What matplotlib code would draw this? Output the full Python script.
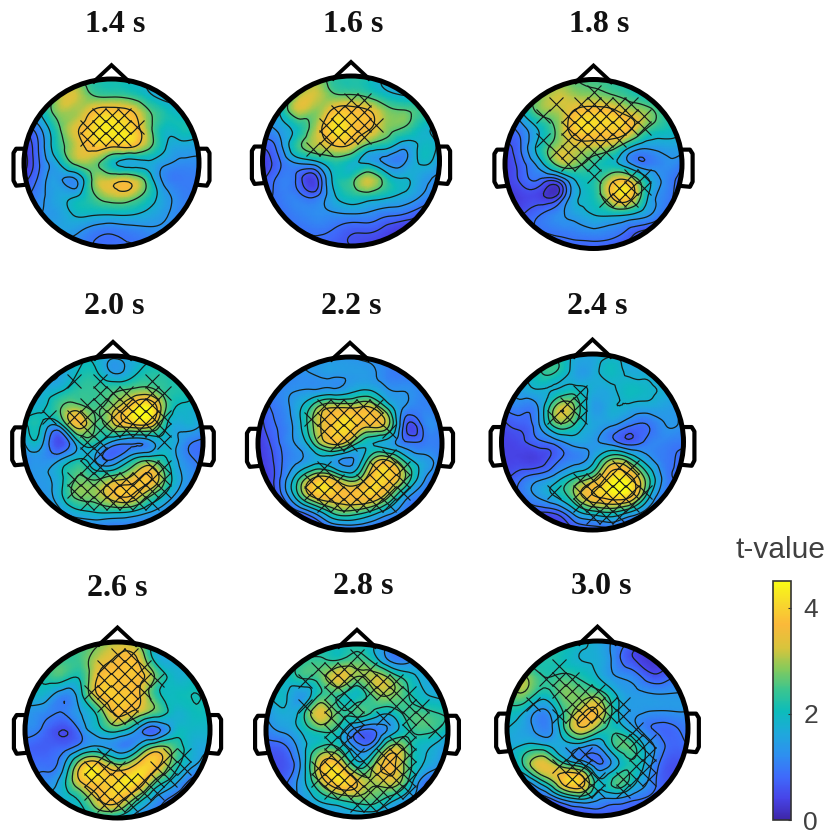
import numpy as np
import matplotlib
matplotlib.use("Agg")
import matplotlib.pyplot as plt
import matplotlib.tri as mtri
from matplotlib.colors import LinearSegmentedColormap, Normalize
from matplotlib.cm import ScalarMappable
from matplotlib.patches import Ellipse

W, H = 832, 833

# t-values: 11 x 11 samples, top row = front of head
t_14 = [[2.0,2.2,2.4,2.5,2.3,2.2,2.1,1.9,1.7,1.6,1.6],
        [2.0,2.0,3.0,3.2,2.6,2.5,2.4,2.0,1.6,1.6,1.6],
        [1.6,1.9,2.9,3.0,3.7,3.9,3.7,2.8,2.2,1.9,1.7],
        [0.6,1.3,2.5,3.4,4.1,4.3,4.1,3.0,2.0,2.1,1.9],
        [0.3,1.1,2.3,3.2,3.8,3.6,3.7,2.9,1.9,1.6,1.5],
        [0.1,1.0,1.8,2.8,2.8,2.0,1.6,1.7,1.4,1.2,1.2],
        [0.5,1.1,1.4,1.3,2.8,3.2,3.3,2.4,1.2,1.0,1.0],
        [0.8,1.2,1.6,1.8,2.5,3.0,3.0,2.3,1.5,1.1,1.0],
        [1.0,1.3,1.5,1.9,1.9,1.9,1.9,1.7,1.4,1.1,1.0],
        [1.2,1.4,1.5,1.4,1.1,1.0,1.1,1.2,1.2,1.1,1.0],
        [1.2,1.2,1.1,1.0,0.9,0.9,0.9,0.9,1.0,1.0,1.0]]
t_16 = [[2.0,2.2,2.5,2.7,2.4,2.3,2.2,1.8,1.7,1.7,1.7],
        [1.8,1.8,2.8,3.2,2.6,2.5,2.3,1.9,1.7,1.7,1.7],
        [1.5,1.9,3.2,2.9,3.6,3.7,3.5,2.8,2.6,2.4,2.0],
        [1.2,1.5,2.1,3.0,4.2,3.9,3.6,2.9,2.6,2.0,1.8],
        [0.7,1.2,2.4,3.1,3.6,3.5,2.6,2.2,1.6,1.9,1.7],
        [0.3,0.9,1.5,1.8,2.3,2.0,1.6,1.2,1.2,1.9,1.4],
        [0.5,1.0,0.8,0.5,1.9,2.3,3.1,2.2,1.8,1.5,1.2],
        [0.8,1.0,1.0,0.8,1.7,2.2,2.3,2.0,1.7,1.3,1.0],
        [0.9,0.9,1.1,1.2,1.3,1.4,1.3,1.1,1.0,0.7,0.6],
        [0.9,0.9,0.9,1.0,0.9,0.7,0.7,0.5,0.3,0.3,0.3],
        [0.9,0.9,0.8,0.8,0.7,0.6,0.4,0.3,0.2,0.2,0.2]]
t_18 = [[2.2,2.3,2.5,2.7,2.6,2.5,2.4,2.2,2.0,2.0,2.0],
        [1.6,2.2,2.8,3.2,3.0,2.9,2.7,2.4,2.1,2.0,2.0],
        [1.0,1.8,2.7,3.0,3.7,3.9,3.8,3.3,2.9,2.3,2.0],
        [0.8,1.1,1.9,2.8,3.9,4.0,3.9,3.6,2.5,2.1,1.8],
        [0.5,1.0,2.1,3.0,3.2,3.1,2.9,1.9,1.4,1.5,1.5],
        [0.3,0.8,1.6,2.8,2.8,2.3,2.0,1.4,1.0,1.2,1.0],
        [0.3,0.7,0.8,0.7,1.8,2.2,3.3,3.5,2.0,1.2,0.7],
        [0.3,0.4,0.4,0.5,1.7,2.1,3.4,3.8,1.9,1.1,0.6],
        [0.5,0.6,0.9,1.2,1.5,1.8,1.9,1.8,1.4,0.9,0.5],
        [0.7,0.8,0.9,1.0,1.1,1.2,1.1,0.8,0.5,0.4,0.4],
        [0.8,0.8,0.8,0.8,0.7,0.7,0.6,0.4,0.3,0.3,0.3]]
t_20 = [[1.5,1.5,1.6,1.9,1.9,1.6,1.7,1.9,1.9,1.7,1.6],
        [1.4,1.4,1.5,2.0,2.1,1.5,1.8,2.2,2.2,2.0,1.8],
        [1.4,1.7,1.9,2.3,2.4,2.5,2.7,2.8,2.3,2.2,1.9],
        [1.8,1.9,2.5,2.9,2.5,3.0,3.9,4.4,2.5,1.9,1.6],
        [1.8,2.0,1.7,3.5,2.6,3.1,3.6,3.6,2.0,1.7,1.4],
        [1.4,1.7,0.5,1.8,2.2,1.4,1.1,1.3,1.8,1.2,0.9],
        [1.1,1.3,1.4,2.0,1.5,1.0,1.9,2.4,2.0,1.2,0.9],
        [1.1,1.4,1.8,2.6,2.4,2.7,3.2,3.8,2.4,1.4,1.0],
        [1.1,1.3,1.8,2.8,2.9,3.6,3.8,2.9,1.9,1.2,1.0],
        [1.0,1.1,1.4,1.9,2.1,2.2,2.1,1.6,1.2,1.0,1.0],
        [1.0,1.0,1.0,1.0,1.0,0.9,0.9,0.9,1.0,1.0,1.0]]
t_22 = [[1.2,1.2,1.3,1.3,1.3,1.3,1.2,1.1,1.0,1.0,1.0],
        [1.0,1.1,1.2,1.3,1.4,1.4,1.4,1.1,1.0,1.0,1.0],
        [0.8,1.1,1.3,1.4,1.5,1.7,1.9,1.4,1.3,1.1,1.0],
        [0.6,1.0,1.5,2.6,3.4,3.4,3.5,2.4,1.2,1.1,1.0],
        [0.4,0.9,1.4,2.8,3.8,4.1,3.4,3.0,0.7,1.0,1.0],
        [0.3,0.8,1.3,2.3,3.4,2.8,1.9,1.6,1.0,1.0,1.0],
        [0.3,0.7,1.2,1.6,1.5,1.2,2.5,3.4,2.2,1.5,1.0],
        [0.3,0.7,1.9,3.3,3.3,2.4,3.5,4.0,2.8,1.4,0.9],
        [0.3,0.6,1.9,3.5,3.8,3.7,3.9,3.1,1.6,1.0,0.8],
        [0.3,0.4,0.7,1.3,2.3,2.6,2.2,1.5,1.0,0.8,0.8],
        [0.3,0.4,0.5,0.6,0.7,0.8,0.8,0.7,0.7,0.7,0.7]]
t_24 = [[1.6,1.7,1.9,2.0,1.7,1.6,1.7,1.7,1.6,1.5,1.4],
        [1.3,1.6,2.2,2.3,1.6,1.6,2.0,1.7,1.7,1.4,1.3],
        [1.0,1.5,1.8,1.8,2.0,1.7,1.7,2.0,1.9,1.7,1.3],
        [0.8,1.1,1.3,2.9,2.8,1.5,1.7,1.7,1.6,1.5,1.3],
        [0.5,0.7,1.2,2.6,2.3,1.6,1.4,1.0,0.9,1.3,1.2],
        [0.4,0.5,0.8,1.1,1.5,1.4,1.1,0.7,1.0,1.1,1.0],
        [0.4,0.4,0.4,0.8,1.1,1.6,2.8,2.5,1.5,1.0,0.8],
        [0.5,0.8,1.1,1.5,2.2,2.8,4.1,4.0,2.5,1.1,0.9],
        [0.7,0.9,1.4,1.9,2.8,3.8,4.2,4.1,2.2,1.0,0.8],
        [0.5,0.5,0.6,0.7,1.5,2.1,2.3,1.8,1.1,0.8,0.8],
        [0.4,0.4,0.4,0.5,0.6,0.7,0.8,0.8,0.8,0.8,0.8]]
t_26 = [[2.2,2.2,2.3,2.4,2.7,3.1,2.8,2.0,1.8,1.7,1.7],
        [2.1,2.2,2.4,2.5,3.2,3.6,3.6,2.0,1.7,1.7,1.7],
        [1.9,2.2,2.4,2.2,3.6,3.8,3.8,2.8,1.9,1.9,1.8],
        [1.6,1.8,1.2,1.9,3.6,3.9,3.7,2.4,2.0,2.1,2.0],
        [1.4,1.2,1.0,1.5,2.4,3.7,3.3,2.6,1.9,2.0,2.0],
        [1.2,0.9,0.5,1.1,1.9,2.3,1.5,0.8,1.7,1.9,1.9],
        [0.8,0.7,0.8,1.3,1.6,1.2,1.6,2.9,2.6,1.8,1.6],
        [0.7,0.9,1.3,3.4,3.8,2.9,3.6,3.8,2.5,1.6,1.2],
        [1.0,1.2,1.8,3.4,3.9,4.1,4.1,2.6,1.7,0.8,0.7],
        [1.4,1.6,1.8,2.2,3.4,3.7,2.5,1.4,0.8,0.5,0.5],
        [1.8,1.8,1.9,2.0,2.0,1.9,1.2,0.9,0.6,0.5,0.5]]
t_28 = [[1.8,1.9,2.1,2.2,2.2,2.2,1.8,1.3,1.3,1.4,1.4],
        [1.8,1.9,2.3,2.4,2.4,2.6,2.1,1.2,1.3,1.5,1.4],
        [1.7,1.9,2.3,2.6,3.4,2.8,3.2,2.7,2.0,1.6,1.4],
        [1.6,1.9,1.4,2.4,2.3,2.0,2.7,2.8,2.2,1.8,1.6],
        [1.3,1.7,2.1,3.4,2.5,2.5,2.1,2.0,2.5,2.4,2.2],
        [1.1,1.4,1.9,2.4,2.1,1.0,0.9,1.6,2.3,2.4,1.9],
        [0.7,0.8,1.6,2.4,2.3,1.2,1.6,3.2,2.3,1.8,1.3],
        [0.5,0.6,1.5,3.5,3.7,2.1,3.0,3.6,2.3,1.6,1.0],
        [0.5,0.8,1.6,3.0,4.1,3.5,3.0,3.2,1.9,0.8,0.7],
        [0.8,1.1,1.4,1.9,2.3,2.6,2.5,1.9,1.3,0.9,0.8],
        [1.2,1.3,1.4,1.4,1.4,1.5,1.4,1.1,1.0,0.9,0.9]]
t_30 = [[2.4,2.4,2.3,2.2,2.0,1.6,1.2,0.9,0.7,0.7,0.8],
        [2.5,2.2,2.2,2.1,1.8,1.7,1.1,0.5,0.3,0.5,0.7],
        [2.6,2.9,2.3,2.4,2.2,1.8,1.3,1.1,0.6,0.8,0.9],
        [2.4,2.8,2.1,2.7,2.7,2.6,1.8,1.4,1.3,1.3,1.3],
        [2.1,1.8,1.2,2.2,3.2,3.5,2.0,1.4,1.3,1.3,1.3],
        [1.8,1.5,1.1,2.0,3.4,2.7,2.1,1.5,0.9,0.8,1.0],
        [1.7,1.9,1.9,1.6,1.5,1.3,2.4,2.4,1.4,0.8,0.9],
        [1.6,2.5,3.4,2.5,1.8,0.9,1.6,2.2,1.3,0.6,0.6],
        [1.2,1.2,2.3,3.6,4.0,2.0,2.5,2.0,1.1,0.6,0.6],
        [0.7,0.7,0.7,1.4,1.9,1.4,1.3,1.0,0.8,0.7,0.7],
        [0.4,0.4,0.4,0.4,0.5,0.6,0.7,0.7,0.7,0.7,0.7]]

# significant channels, 15 x 15 sensor lattice
sig_14 = ["...............", "...............", "...............", "......xxx......", ".....xxxxx.....",
          ".....xxxx......", "...............", "...............", "...............", "...............",
          "...............", "...............", "...............", "...............", "..............."]
sig_16 = ["...............", "...............", ".......xx......", "......xxx......", ".....xxxxx.....",
          ".....xxxx......", "....xx.........", "...............", "...............", "...............",
          "...............", "...............", "...............", "...............", "..............."]
sig_18 = ["...............", ".......x.......", "....x.xxxxx....", "...x.xxxxxxx...", ".....xxxxxxx...",
          "...x.xxxxx.....", "....xxxxx......", ".....xxx.......", ".......x..xx...", ".........xxx...",
          "........xxx....", "...............", "...............", "...............", "..............."]
sig_20 = ["...............", "...............", "....x.x...x....", "......xxx.xx...", ".....xxxxxx....",
          "..x.xxxxxxxx...", ".....xxxxxxx...", ".....xx....x...", ".....xx........", ".....xx...xx...",
          "....xxxxxxxx...", "....xxxxxxxx...", ".....xxxxxx....", "...............", "..............."]
sig_22 = ["...............", "...............", "...............", "...............", ".....xxxxx.....",
          "....xxxxxx.....", ".....xxx..x....", "......xx.......", "..........x....", ".....x...xxx...",
          "....xxx.xxxx...", "....xxxxxxxx...", ".....xxxxxx....", "...............", "..............."]
sig_24 = ["...............", "...............", "...............", "......x........", ".....xx........",
          "....xxx........", "...............", "...............", "...............", ".........xx....",
          "......xxxxx....", "....x.xxxxxx...", "......xxxxx....", ".......xxx.....", "..............."]
sig_26 = ["...............", ".......xx......", "......xxxx.....", "......xxxxx....", ".....xxxxx.....",
          "......xxx......", ".......xx......", "...............", "...............", "......x....xx..",
          ".....xxx..xxx..", ".....xxxxxxx...", ".....xxxxxx....", "......xxx......", "..............."]
sig_28 = ["...............", ".......x.......", "....xxxxx......", "...x.xxxxxx....", ".....xx.xxxx...",
          "...x.xxx..xxx..", ".....xxx.x.xx..", ".....xxx...x.x.", ".....xx...xx...", ".....xxx.xxx...",
          "....xxxxxxxx...", "....xxxxxxxx...", ".....xxxxxxx...", ".......xxx.....", "..............."]
sig_30 = ["...............", "...............", "....x..........", "...xxx.........", "....xxxx.......",
          "..x..xxxxx.....", "....xxxxxx.....", "..........x....", ".........xxx...", ".....xx...xx...",
          "....xxx...xx...", ".....xxx.xxx...", "......xx.x.....", "...............", "..............."]

titles = ["1.4 s", "1.6 s", "1.8 s", "2.0 s", "2.2 s", "2.4 s", "2.6 s", "2.8 s", "3.0 s"]
maps = [t_14, t_16, t_18, t_20, t_22, t_24, t_26, t_28, t_30]
masks = [sig_14, sig_16, sig_18, sig_20, sig_22, sig_24, sig_26, sig_28, sig_30]

# contour levels differ per panel
levels = [[0.3, 0.6, 0.9, 1.3, 1.8, 2.6, 3.5],
          [0.3, 0.6, 0.9, 1.3, 1.8, 2.6, 3.5],
          [0.3, 0.6, 0.9, 1.3, 1.8, 2.6, 3.5],
          [0.5, 1.0, 1.5, 2.0, 2.6, 3.2, 3.7],
          [0.3, 0.6, 0.9, 1.3, 1.8, 2.3, 2.8, 3.3],
          [0.3, 0.6, 0.9, 1.3, 1.8, 2.3, 2.8, 3.3, 3.8],
          [0.5, 1.0, 1.5, 2.1, 2.8, 3.5],
          [0.5, 0.9, 1.3, 1.8, 2.3, 2.9, 3.5],
          [0.5, 0.9, 1.3, 1.8, 2.3, 2.9, 3.5]]

# head placement in pixels: centre x, centre y, radius x, radius y
heads = [(111.5, 163, 87.5, 84), (351, 161, 88.5, 85), (593.5, 164, 88.5, 84.5),
         (113, 442, 90, 86), (350, 443.5, 92, 86.5), (592.5, 442, 91, 88),
         (117.5, 730, 92.5, 88), (357, 730.5, 91, 86.5), (597.5, 728.5, 90.5, 87.5)]
title_xy = [(115, 24), (353, 24), (599, 24), (114, 306), (351, 306), (597, 306),
            (117, 588), (363, 587), (601, 587)]

parula = LinearSegmentedColormap.from_list("parula", [
    (0.0, "#3e26a8"), (0.09, "#4744e8"), (0.18, "#3f6afb"), (0.27, "#2e8ff0"),
    (0.36, "#1fa8dc"), (0.455, "#0cbcbb"), (0.545, "#3bc58f"), (0.635, "#87ca5b"),
    (0.72, "#d8c43c"), (0.82, "#fbb93a"), (0.91, "#f7d92c"), (1.0, "#f9fb15")])
norm = Normalize(0, 4.5)

fig = plt.figure(figsize=(W / 100, H / 100), dpi=100)
plt.rcParams["font.family"] = ["Liberation Sans", "DejaVu Sans"]

gx = np.linspace(-1, 1, 11)
gy = np.linspace(1, -1, 11)
X, Y = np.meshgrid(gx, gy)
base = mtri.Triangulation(X.ravel(), Y.ravel())
refiner = mtri.UniformTriRefiner(base)

lat = np.linspace(-1, 1, 15)
ear_x = np.array([-0.99, -1.09, -1.12, -1.12, -1.09, -0.99])
ear_y = np.array([0.17, 0.17, 0.12, -0.21, -0.27, -0.26])
pad = 1.3

for i, (cx, cy, rx, ry) in enumerate(heads):
    ax = fig.add_axes([(cx - pad * rx) / W, 1 - (cy + pad * ry) / H, 2 * pad * rx / W, 2 * pad * ry / H])
    ax.set_xlim(-pad, pad)
    ax.set_ylim(-pad, pad)
    ax.axis("off")

    z = np.array(maps[i]).ravel()
    tri_ref, z_ref = refiner.refine_field(z, subdiv=3)
    clip = Ellipse((0, 0), 2, 2, transform=ax.transData)
    mesh = ax.tripcolor(tri_ref, z_ref, shading="gouraud", cmap=parula, norm=norm)
    mesh.set_clip_path(clip)
    cs = ax.tricontour(tri_ref, z_ref, levels=levels[i], colors="#15201c", linewidths=0.9)
    cs.set_clip_path(clip)

    mask = np.array([list(r) for r in masks[i]]) == "x"
    rows, cols = np.nonzero(mask)
    ax.plot(lat[cols], -lat[rows], "x", color="#14181a", ms=9.5, mew=0.8, clip_on=False)

    ax.add_patch(Ellipse((0, 0), 2, 2, fill=False, ec="black", lw=3.6, zorder=5))
    ax.plot([-0.2, 0, 0.2], [0.97, 1.165, 0.97], color="black", lw=2.8, solid_joinstyle="miter", zorder=5)
    ax.plot(ear_x, ear_y, color="black", lw=3.0, solid_joinstyle="round", zorder=5)
    ax.plot(-ear_x, ear_y, color="black", lw=3.0, solid_joinstyle="round", zorder=5)

    tx, ty = title_xy[i]
    fig.text(tx / W, 1 - ty / H, titles[i], family="Liberation Serif", weight="bold",
             fontsize=23, ha="center", va="center", color="#111111")

# colour bar
cax = fig.add_axes([773 / W, 1 - 820 / H, 18 / W, 239 / H])
cb = fig.colorbar(ScalarMappable(norm=norm, cmap=parula), cax=cax, ticks=[0, 2, 4])
cb.outline.set_edgecolor("#333333")
cb.outline.set_linewidth(1.2)
cax.tick_params(direction="in", length=2, width=0.8, color="#333333", labelsize=19,
                labelcolor="#404040", pad=9)
fig.text(780.5 / W, 1 - 550 / H, "t-value", fontsize=21.5, color="#404040", ha="center", va="center")

fig.savefig("out.png", dpi=100)
